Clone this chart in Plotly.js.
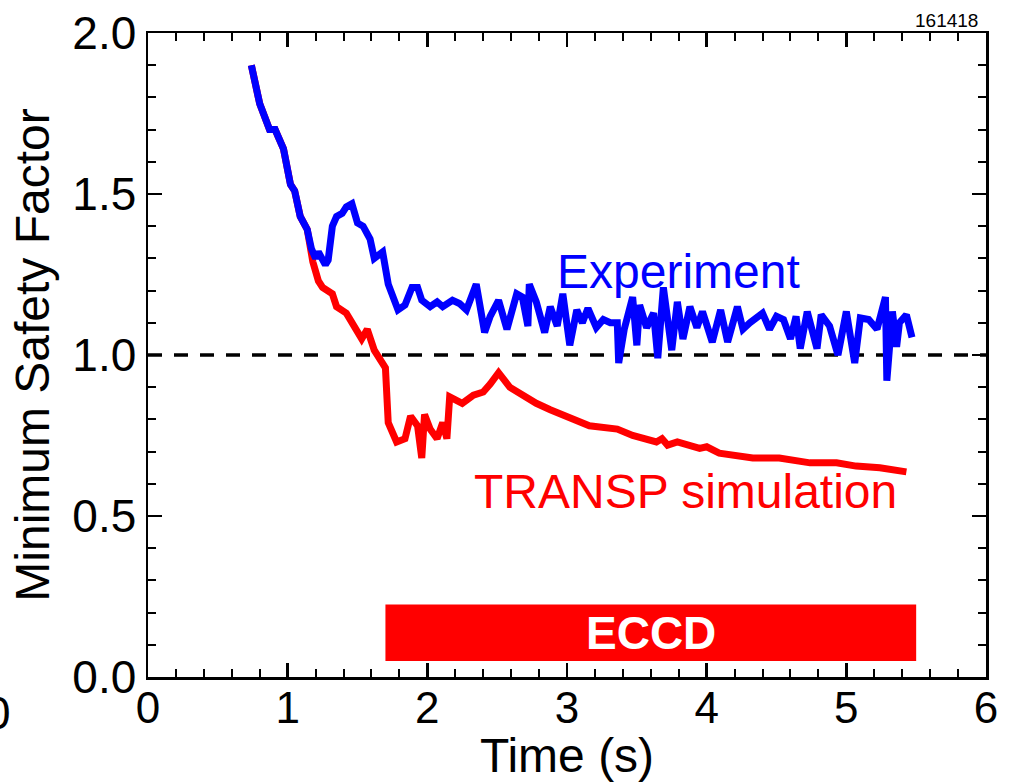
<!DOCTYPE html>
<html>
<head>
<meta charset="utf-8">
<script src="https://cdn.plot.ly/plotly-3.0.1.min.js"></script>
<style>html,body{margin:0;padding:0;background:#fff;}#chart{width:1015px;height:782px;}</style>
</head>
<body>
<div id="chart"></div>
<script>
// Experiment (blue) — time (s), minimum safety factor
const expTime = [0.74,0.80,0.87,0.91,0.97,1.02,1.05,1.09,1.14,1.17,1.20,1.22,1.27,1.29,1.32,1.35,1.39,1.42,1.46,1.50,1.54,1.59,1.62,1.68,1.72,1.75,1.79,1.84,1.89,1.93,1.96,2.02,2.07,2.11,2.18,2.23,2.28,2.35,2.41,2.45,2.51,2.57,2.64,2.68,2.72,2.73,2.78,2.84,2.88,2.93,2.97,3.02,3.07,3.11,3.15,3.21,3.26,3.31,3.36,3.37,3.41,3.47,3.50,3.52,3.57,3.62,3.65,3.69,3.75,3.79,3.83,3.88,3.93,3.97,4.04,4.10,4.15,4.22,4.26,4.31,4.36,4.40,4.45,4.50,4.55,4.60,4.64,4.67,4.72,4.79,4.82,4.88,4.94,5.00,5.06,5.10,5.16,5.22,5.28,5.29,5.33,5.36,5.38,5.43,5.47];
const expQ    = [1.90,1.78,1.70,1.70,1.64,1.53,1.51,1.43,1.39,1.33,1.30,1.32,1.28,1.295,1.40,1.43,1.44,1.46,1.47,1.41,1.40,1.36,1.30,1.32,1.22,1.19,1.14,1.155,1.21,1.21,1.17,1.15,1.165,1.15,1.17,1.16,1.14,1.22,1.07,1.12,1.17,1.08,1.19,1.18,1.09,1.22,1.165,1.07,1.15,1.09,1.19,1.03,1.14,1.10,1.145,1.085,1.11,1.10,1.10,0.975,1.08,1.18,1.03,1.155,1.085,1.13,0.99,1.21,1.015,1.165,1.05,1.15,1.085,1.135,1.04,1.14,1.04,1.15,1.08,1.10,1.12,1.13,1.08,1.12,1.11,1.05,1.12,1.02,1.135,1.02,1.125,1.09,1.00,1.135,0.975,1.115,1.11,1.08,1.18,0.92,1.135,1.025,1.10,1.125,1.055];

// TRANSP simulation (red)
const simTime = [0.74,0.80,0.87,0.91,0.97,1.02,1.05,1.09,1.14,1.18,1.22,1.25,1.32,1.35,1.42,1.48,1.53,1.57,1.62,1.70,1.72,1.78,1.84,1.88,1.93,1.96,1.98,2.02,2.07,2.11,2.14,2.16,2.25,2.33,2.40,2.45,2.51,2.59,2.68,2.78,2.88,2.97,3.16,3.36,3.47,3.64,3.68,3.72,3.79,3.95,4.00,4.09,4.33,4.52,4.74,4.93,5.07,5.24,5.43];
const simQ    = [1.90,1.78,1.70,1.70,1.64,1.53,1.51,1.43,1.39,1.29,1.23,1.21,1.19,1.15,1.13,1.09,1.05,1.08,1.015,0.96,0.79,0.73,0.74,0.81,0.78,0.68,0.815,0.77,0.74,0.79,0.74,0.87,0.85,0.875,0.885,0.91,0.945,0.90,0.875,0.85,0.83,0.815,0.78,0.77,0.75,0.73,0.74,0.72,0.73,0.71,0.715,0.695,0.68,0.68,0.665,0.665,0.655,0.65,0.637];

// reference line q = 1 and ECCD window
const refLineX = [0, 6];
const refLineY = [1, 1];
const eccdStart = 1.7, eccdEnd = 5.5, eccdLow = 0.05, eccdHigh = 0.225;

const font = "Liberation Sans, Arial, Helvetica, sans-serif";

const traces = [
  {x: refLineX, y: refLineY, mode: 'lines', line: {color: '#000', width: 3.5, dash: '14px,12px'}, hoverinfo: 'skip'},
  {x: simTime, y: simQ, mode: 'lines', line: {color: '#ff0000', width: 7}},
  {x: expTime, y: expQ, mode: 'lines', line: {color: '#0000ff', width: 7}}
];

const layout = {
  width: 1015, height: 782,
  margin: {l: 148, r: 29, t: 33, b: 105},
  paper_bgcolor: '#fff', plot_bgcolor: '#fff',
  showlegend: false,
  font: {family: font, color: '#000'},
  xaxis: {
    range: [0, 6], dtick: 1, tick0: 0,
    ticks: 'inside', ticklen: 14, tickwidth: 2.5, tickcolor: '#000',
    showline: true, linewidth: 2.5, linecolor: '#000', mirror: 'allticks',
    showgrid: false, zeroline: false,
    tickfont: {size: 44, family: font},
    ticklabelstandoff: -9,
    minor: {dtick: 0.2, ticks: 'inside', ticklen: 8, tickwidth: 2, tickcolor: '#000', showgrid: false},
    title: {text: 'Time (s)', font: {size: 48, family: font}, standoff: 6}
  },
  yaxis: {
    range: [0, 2], dtick: 0.5, tick0: 0, tickformat: '.1f',
    ticks: 'inside', ticklen: 14, tickwidth: 2.5, tickcolor: '#000',
    showline: true, linewidth: 2.5, linecolor: '#000', mirror: 'allticks',
    showgrid: false, zeroline: false,
    tickfont: {size: 46, family: font},
    minor: {dtick: 0.1, ticks: 'inside', ticklen: 8, tickwidth: 2, tickcolor: '#000', showgrid: false},
    title: {text: 'Minimum Safety Factor', font: {size: 48, family: font}, standoff: 8}
  },
  shapes: [
    {type: 'rect', xref: 'x', yref: 'y', x0: eccdStart, x1: eccdEnd, y0: eccdLow, y1: eccdHigh,
     fillcolor: '#ff0000', line: {width: 0}, layer: 'above'}
  ],
  annotations: [
    {xref: 'x', yref: 'y', x: (eccdStart + eccdEnd) / 2, y: (eccdLow + eccdHigh) / 2, text: '<b>ECCD</b>',
     showarrow: false, font: {size: 46, color: '#fff', family: font}},
    {xref: 'x', yref: 'y', x: 3.8, y: 1.26, text: 'Experiment', showarrow: false,
     font: {size: 48, color: '#0000ff', family: font}},
    {xref: 'x', yref: 'y', x: 3.85, y: 0.575, text: 'TRANSP simulation', showarrow: false,
     font: {size: 48, color: '#ff0000', family: font}},
    {xref: 'paper', yref: 'paper', x: 1, y: 1, xanchor: 'right', yanchor: 'bottom', xshift: -6, yshift: 0,
     text: '161418', showarrow: false, font: {size: 19, color: '#000', family: font}},
    {xref: 'paper', yref: 'paper', x: 0, y: 0, xanchor: 'center', yanchor: 'top', xshift: -150, yshift: -8,
     text: '0', showarrow: false, font: {size: 46, color: '#000', family: font}}
  ]
};

Plotly.newPlot('chart', traces, layout, {displayModeBar: false, staticPlot: true});
</script>
</body>
</html>
